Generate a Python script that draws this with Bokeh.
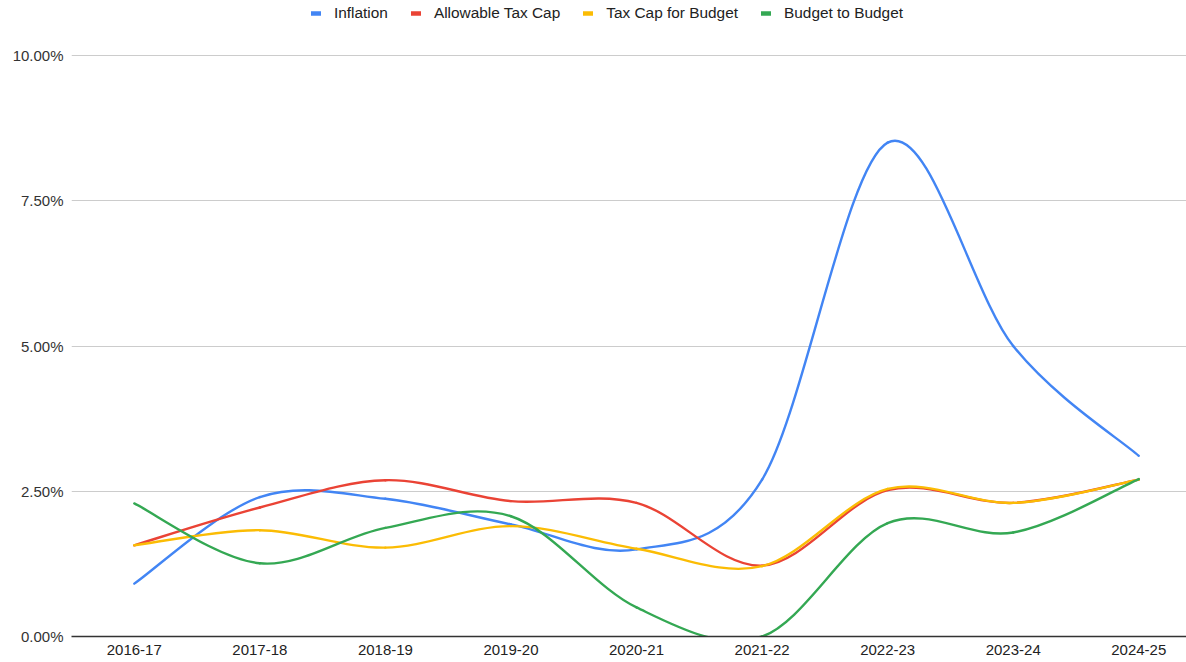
from bokeh.plotting import figure
from bokeh.models import Range1d, FixedTicker, PrintfTickFormatter, Legend, LegendItem
from bokeh.embed import file_html
from bokeh.resources import INLINE

years = ["2016-17", "2017-18", "2018-19", "2019-20", "2020-21",
         "2021-22", "2022-23", "2023-24", "2024-25"]
inflation = [0.91, 2.40, 2.37, 1.93, 1.50, 2.70, 8.50, 5.00, 3.11]
allowable_tax_cap = [1.57, 2.22, 2.69, 2.33, 2.30, 1.22, 2.52, 2.30, 2.70]
tax_cap_for_budget = [1.57, 1.83, 1.53, 1.90, 1.51, 1.21, 2.54, 2.30, 2.70]
budget_to_budget = [2.29, 1.26, 1.87, 2.07, 0.50, 0.00, 1.95, 1.79, 2.71]
y_ticks = [0, 2.5, 5, 7.5, 10]

series = [
    ("Inflation", inflation, "#4285F4"),
    ("Allowable Tax Cap", allowable_tax_cap, "#EA4335"),
    ("Tax Cap for Budget", tax_cap_for_budget, "#FBBC04"),
    ("Budget to Budget", budget_to_budget, "#34A853"),
]

FONT = "Liberation Sans"

# frame spans the full top of the canvas so the legend can sit above the 10% line
p = figure(width=1186, height=662, output_backend="svg", toolbar_location=None,
           x_range=Range1d(-0.5, 8.38), y_range=Range1d(0, 10.947),
           min_border_left=71, min_border_right=0, min_border_top=0,
           min_border_bottom=26)
p.outline_line_color = None
p.background_fill_color = "white"
p.border_fill_color = "white"


def smooth_segments(vals):
    """Catmull-Rom style cubic Bezier segments through the data points."""
    n = len(vals)
    xs = list(range(n))
    seg = dict(x0=[], y0=[], x1=[], y1=[], cx0=[], cy0=[], cx1=[], cy1=[])

    def tangent(i):
        a = max(i - 1, 0)
        b = min(i + 1, n - 1)
        return ((xs[b] - xs[a]) / 2.0, (vals[b] - vals[a]) / 2.0)

    for i in range(n - 1):
        t0 = tangent(i)
        t1 = tangent(i + 1)
        seg["x0"].append(xs[i]); seg["y0"].append(vals[i])
        seg["x1"].append(xs[i + 1]); seg["y1"].append(vals[i + 1])
        seg["cx0"].append(xs[i] + t0[0] / 3.0); seg["cy0"].append(vals[i] + t0[1] / 3.0)
        seg["cx1"].append(xs[i + 1] - t1[0] / 3.0); seg["cy1"].append(vals[i + 1] - t1[1] / 3.0)
    return seg


nan = float("nan")
items = []
for name, vals, color in series:
    s = smooth_segments(vals)
    p.bezier(x0=s["x0"], y0=s["y0"], x1=s["x1"], y1=s["y1"],
             cx0=s["cx0"], cy0=s["cy0"], cx1=s["cx1"], cy1=s["cy1"],
             line_color=color, line_width=2.4, line_cap="round")
    # legend-only swatch (no visible data)
    swatch = p.line(x=[nan], y=[nan], line_color=color, line_width=4.5, line_cap="round")
    items.append(LegendItem(label=name, renderers=[swatch]))

legend = Legend(items=items, orientation="horizontal", location=(240, 614),
                border_line_color=None, background_fill_alpha=0,
                padding=0, margin=0, spacing=23,
                glyph_width=10, glyph_height=16, label_height=16,
                label_standoff=13,
                label_text_font=FONT, label_text_font_size="15.4px",
                label_text_color="#222222")
p.add_layout(legend, "center")

# y axis
p.yaxis.ticker = FixedTicker(ticks=y_ticks)
p.yaxis.formatter = PrintfTickFormatter(format="%.2f%%")
p.yaxis.axis_line_color = None
p.yaxis.major_tick_line_color = None
p.yaxis.minor_tick_line_color = None
p.yaxis.major_tick_out = 0
p.yaxis.major_tick_in = 0
p.yaxis.major_label_standoff = 8
p.yaxis.major_label_text_font = FONT
p.yaxis.major_label_text_font_size = "15px"
p.yaxis.major_label_text_color = "#333333"

# x axis
p.xaxis.ticker = FixedTicker(ticks=list(range(len(years))))
p.xaxis.major_label_overrides = {i: y for i, y in enumerate(years)}
p.xaxis.axis_line_color = "#333333"
p.xaxis.axis_line_width = 1.5
p.xaxis.major_tick_line_color = None
p.xaxis.minor_tick_line_color = None
p.xaxis.major_tick_out = 0
p.xaxis.major_tick_in = 0
p.xaxis.major_label_standoff = 8
p.xaxis.major_label_text_font = FONT
p.xaxis.major_label_text_font_size = "15px"
p.xaxis.major_label_text_color = "#222222"

p.xgrid.grid_line_color = None
p.ygrid.grid_line_color = "#cccccc"
p.ygrid.grid_line_width = 1

open("out.html", "w").write(file_html(p, INLINE))
